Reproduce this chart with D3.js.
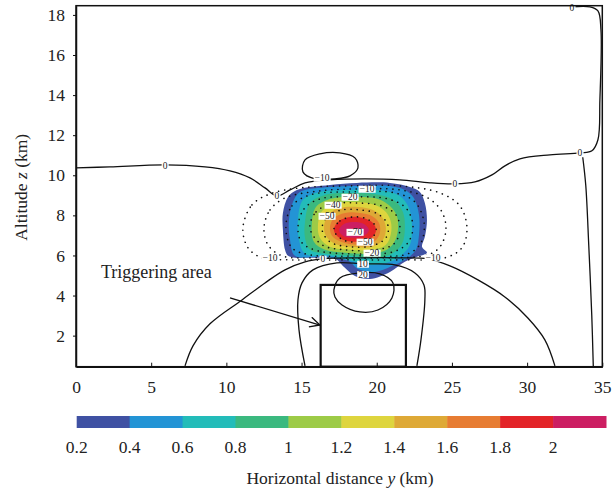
<!DOCTYPE html>
<html>
<head>
<meta charset="utf-8">
<script src="https://cdn.jsdelivr.net/npm/d3@7"></script>
<style>
  body { margin: 0; background: #fff; }
  text { font-family: "Liberation Serif", "DejaVu Serif", serif; fill: #222; }
</style>
</head>
<body>
<script>
// ---- data (km) ----
const yTicks = [0, 5, 10, 15, 20, 25, 30, 35];
const zTicks = [2, 4, 6, 8, 10, 12, 14, 16, 18];
const levelLabels = ["0.2", "0.4", "0.6", "0.8", "1", "1.2", "1.4", "1.6", "1.8", "2"];
const levelColors = ["#3f51a3", "#2394d5", "#23bcb9", "#3bb97f", "#9dcb47",
                     "#ded53e", "#dea936", "#e77c32", "#e32428", "#cc1e62"];

// filled contour outlines, level 0.2 .. 2.0, points are [y, z]
const band02 = [[14.10,5.98],[13.90,6.28],[13.76,7.27],[13.76,8.12],[14.10,8.92],[14.69,9.27],[16.89,9.52],[18.68,9.62],[20.88,9.62],[22.21,9.42],[22.87,9.17],[23.20,8.62],[23.34,7.77],[23.20,6.93],[23.01,6.43],[23.34,6.13],[22.67,5.93],[21.87,5.68],[20.88,5.18],[19.55,4.83],[18.55,4.98],[17.75,5.48],[17.22,5.83],[15.56,5.88],[14.56,5.88]];
const band04 = [[14.16,7.77],[14.23,6.78],[14.56,5.98],[16.22,5.93],[18.09,5.73],[18.75,5.33],[19.88,5.18],[21.21,5.53],[22.07,5.88],[22.61,6.28],[22.81,7.03],[22.81,8.02],[22.47,8.87],[21.87,9.27],[20.88,9.47],[18.88,9.47],[16.89,9.42],[14.89,9.17],[14.43,8.67]];
const band06 = [[14.76,7.77],[15.09,8.77],[16.22,9.17],[18.22,9.27],[20.54,9.22],[21.54,8.97],[22.14,8.37],[22.34,7.52],[22.21,6.53],[21.68,6.03],[20.88,5.68],[19.55,5.53],[18.55,5.68],[16.89,5.98],[15.23,6.08],[14.83,6.78]];
const band08 = [[15.23,7.67],[15.56,8.62],[16.56,9.02],[18.35,9.12],[20.21,9.02],[21.21,8.72],[21.74,8.17],[21.87,7.37],[21.68,6.58],[21.01,6.08],[19.88,5.88],[18.22,5.98],[16.56,6.08],[15.56,6.28],[15.23,6.88]];
const band10 = [[15.69,7.62],[15.96,8.42],[16.89,8.82],[18.55,8.92],[20.08,8.82],[20.88,8.47],[21.34,7.97],[21.41,7.27],[21.14,6.63],[20.54,6.23],[19.41,6.08],[17.89,6.13],[16.56,6.28],[15.82,6.68]];
const band12 = [[16.09,7.52],[16.36,8.22],[17.22,8.57],[18.62,8.67],[19.88,8.52],[20.61,8.17],[20.94,7.67],[20.94,7.08],[20.61,6.53],[19.68,6.28],[18.22,6.28],[16.89,6.43],[16.22,6.88]];
const band14 = [[16.49,7.47],[16.82,8.07],[17.55,8.37],[18.75,8.42],[19.75,8.27],[20.35,7.92],[20.61,7.37],[20.41,6.78],[19.68,6.43],[18.35,6.43],[17.22,6.58],[16.62,6.98]];
const band16 = [[16.89,7.42],[17.15,7.87],[17.89,8.12],[18.88,8.12],[19.68,7.97],[20.15,7.62],[20.21,7.12],[19.81,6.68],[18.75,6.53],[17.62,6.68],[17.02,6.98]];
const band18 = [[17.15,7.32],[17.49,7.72],[18.22,7.92],[19.08,7.87],[19.75,7.62],[19.95,7.22],[19.55,6.83],[18.62,6.68],[17.75,6.78],[17.29,7.03]];
const band20 = [[17.49,7.27],[17.82,7.57],[18.48,7.67],[19.15,7.57],[19.48,7.27],[19.15,6.98],[18.35,6.88],[17.75,6.98]];
const bands = [band02, band04, band06, band08, band10, band12, band14, band16, band18, band20];

// dotted (negative) contours, closed
const neg10 = [[11.10,7.37],[11.70,8.52],[12.90,9.07],[14.89,9.37],[18.22,9.47],[21.54,9.47],[24.20,9.12],[25.53,8.47],[26.00,7.37],[25.66,6.38],[24.53,5.88],[21.54,5.78],[18.22,5.78],[14.23,5.78],[12.37,5.88],[11.44,6.38]];
const neg20 = [[12.50,7.37],[12.90,8.27],[13.90,8.87],[16.22,9.22],[18.88,9.32],[21.54,9.27],[23.40,8.87],[24.34,8.17],[24.60,7.27],[24.20,6.43],[23.40,6.03],[20.21,5.88],[16.22,5.88],[13.70,5.98],[12.77,6.53]];
const neg30 = [[13.96,7.37],[14.36,8.47],[15.56,9.02],[18.22,9.17],[21.21,9.12],[22.54,8.67],[23.14,7.67],[22.94,6.63],[22.07,6.08],[18.88,5.98],[15.56,6.03],[14.36,6.38]];
const neg40 = [[14.76,7.37],[15.16,8.32],[16.22,8.82],[18.35,8.92],[20.74,8.82],[21.94,8.37],[22.41,7.47],[22.07,6.63],[21.08,6.18],[18.55,6.08],[16.09,6.23],[15.03,6.63]];
const neg50 = [[15.56,7.37],[15.96,8.17],[17.02,8.57],[18.62,8.62],[20.35,8.47],[21.28,8.02],[21.54,7.27],[21.14,6.58],[19.95,6.28],[17.89,6.28],[16.36,6.53]];
const neg60 = [[16.36,7.32],[16.76,7.97],[17.69,8.27],[18.88,8.27],[20.08,8.07],[20.74,7.52],[20.61,6.88],[19.68,6.48],[18.22,6.43],[16.89,6.68]];
const neg70 = [[17.15,7.27],[17.55,7.72],[18.42,7.92],[19.35,7.82],[19.95,7.42],[19.75,6.93],[18.88,6.68],[17.75,6.78]];
const dotted = [neg10, neg20, neg30, neg40, neg50, neg60, neg70];

// solid contours
const zeroUpper = [[0,10.37],[2.26,10.42],[5.92,10.52],[8.58,10.42],[10.24,10.22],[11.57,9.87],[12.57,9.37],[13.36,8.97],[14.23,9.27],[15.23,9.62],[16.89,9.77],[19.22,9.82],[21.54,9.77],[23.54,9.62],[25.20,9.57],[26.53,9.67],[27.66,10.02],[28.52,10.47],[29.52,10.82],[31.52,11.02],[33.51,11.12],[34.31,11.22],[34.71,11.77],[34.84,13.76],[34.91,17.25],[34.71,18.20],[34.18,18.40],[32.98,18.40]];
const zeroDome = [[7.25,0.49],[7.78,1.49],[8.91,2.59],[11.04,3.78],[12.57,4.63],[13.90,5.28],[15.23,5.68],[16.42,5.83],[18.88,5.88],[21.54,5.88],[23.40,5.83],[24.87,5.48],[26.73,4.78],[28.52,3.93],[30.05,2.88],[31.18,1.79],[31.85,0.49]];
const tenDome = [[15.23,0.49],[14.83,2.29],[14.76,3.78],[15.03,4.63],[15.76,5.28],[17.35,5.63],[19.08,5.58],[21.21,5.53],[22.54,5.13],[23.14,4.53],[23.20,3.78],[22.94,1.79],[22.67,0.49]];
const rightEdge = [[34.40,0.49],[34.30,3.0],[34.10,6.5],[33.90,9.5],[33.70,10.9]];
const openLines = [zeroUpper, zeroDome, tenDome, rightEdge];
const loopMinus10 = [[15.09,10.17],[15.23,10.77],[16.22,11.07],[17.55,11.12],[18.55,10.87],[18.75,10.37],[18.22,9.97],[17.22,9.82],[15.89,9.82]];
const loop20 = [[17.15,4.28],[17.55,4.88],[18.88,5.13],[20.21,5.08],[21.08,4.63],[21.01,3.88],[20.08,3.28],[18.88,3.18],[17.69,3.53],[17.22,3.93]];
const closedLines = [loopMinus10, loop20];

const contourLabels = [
  ["0", 5.92, 10.47], ["0", 13.36, 8.97], ["0", 25.20, 9.57], ["0", 33.51, 11.12], ["0", 32.98, 18.35],
  ["\u221210", 16.36, 9.87], ["\u221210", 19.35, 9.32], ["\u221220", 18.22, 8.92], ["\u221240", 17.09, 8.52],
  ["\u221250", 16.69, 7.97], ["\u221270", 18.55, 7.17], ["\u221250", 19.22, 6.68], ["\u221220", 19.68, 6.13],
  ["\u221210", 12.90, 5.88], ["\u221210", 23.74, 5.88], ["0", 16.42, 5.83], ["10", 19.08, 5.58], ["20", 19.08, 5.06]
];

const triggerBox = [16.27, 21.94, 0.45, 4.53];   // y0, y1, z0, z1
const arrowLine = [[10.24, 3.88], [16.22, 2.53]];
const triggerText = ["Triggering area", 1.66, 4.88];

// ---- drawing ----
const W = 612, H = 494;
const svg = d3.select("body").append("svg").attr("width", W).attr("height", H);

const x = d3.scaleLinear().domain([0, 35]).range([76, 602.3]);
const z = d3.scaleLinear().domain([0.45, 18.46]).range([366.7, 5.7]);

const lineOpen = d3.line().x(d => x(d[0])).y(d => z(d[1])).curve(d3.curveCatmullRom.alpha(0.5));
const lineClosed = d3.line().x(d => x(d[0])).y(d => z(d[1])).curve(d3.curveCatmullRomClosed.alpha(0.5));

const plot = svg.append("g");

// filled bands
plot.selectAll("path.band").data(bands).join("path")
  .attr("class", "band")
  .attr("d", lineClosed)
  .attr("fill", (d, i) => levelColors[i]);

// dotted negative contours
plot.selectAll("path.neg").data(dotted).join("path")
  .attr("class", "neg")
  .attr("d", lineClosed)
  .attr("fill", "none")
  .attr("stroke", "#111")
  .attr("stroke-width", 1.6)
  .attr("stroke-linecap", "round")
  .attr("stroke-dasharray", "0.1 6");

// solid contours
plot.selectAll("path.open").data(openLines).join("path")
  .attr("class", "open")
  .attr("d", lineOpen)
  .attr("fill", "none")
  .attr("stroke", "#111")
  .attr("stroke-width", 1.3);

plot.selectAll("path.closed").data(closedLines).join("path")
  .attr("class", "closed")
  .attr("d", lineClosed)
  .attr("fill", "none")
  .attr("stroke", "#111")
  .attr("stroke-width", 1.3);

// contour labels with white background
const lab = plot.selectAll("g.clab").data(contourLabels).join("g")
  .attr("class", "clab")
  .attr("transform", d => `translate(${x(d[1])},${z(d[2])})`);
lab.append("text")
  .attr("text-anchor", "middle")
  .attr("dy", "0.35em")
  .style("font-size", "9.5px")
  .text(d => d[0]);
lab.each(function () {
  const g = d3.select(this);
  const bb = g.select("text").node().getBBox();
  g.insert("rect", "text")
    .attr("x", bb.x - 1).attr("y", bb.y + 1.5)
    .attr("width", bb.width + 2).attr("height", bb.height - 3)
    .attr("fill", "#fff");
});

// triggering area box and arrow
plot.append("rect")
  .attr("x", x(triggerBox[0])).attr("y", z(triggerBox[3]))
  .attr("width", x(triggerBox[1]) - x(triggerBox[0]))
  .attr("height", z(triggerBox[2]) - z(triggerBox[3]))
  .attr("fill", "none").attr("stroke", "#111").attr("stroke-width", 2.2);

svg.append("defs").append("marker")
  .attr("id", "arr").attr("viewBox", "0 0 12 12")
  .attr("refX", 11).attr("refY", 6)
  .attr("markerWidth", 12).attr("markerHeight", 12)
  .attr("markerUnits", "userSpaceOnUse")
  .attr("orient", "auto")
  .append("path").attr("d", "M1,1 L11,6 L1,11")
  .attr("fill", "none").attr("stroke", "#111").attr("stroke-width", 1.3);

plot.append("line")
  .attr("x1", x(arrowLine[0][0])).attr("y1", z(arrowLine[0][1]))
  .attr("x2", x(arrowLine[1][0])).attr("y2", z(arrowLine[1][1]))
  .attr("stroke", "#111").attr("stroke-width", 1.3)
  .attr("marker-end", "url(#arr)");

plot.append("text")
  .attr("x", x(triggerText[1])).attr("y", z(triggerText[2]))
  .style("font-size", "18px")
  .text(triggerText[0]);

// frame
svg.append("rect")
  .attr("x", x(0)).attr("y", z(18.46))
  .attr("width", x(35) - x(0)).attr("height", z(0.45) - z(18.46))
  .attr("fill", "none").attr("stroke", "#111").attr("stroke-width", 1.5);

// axes
const ax = svg.append("g").attr("transform", `translate(0,${z(0.45)})`)
  .call(d3.axisBottom(x).tickValues(yTicks).tickFormat(d3.format("d")).tickSizeInner(-4).tickSizeOuter(0).tickPadding(14));
const az = svg.append("g").attr("transform", `translate(${x(0)},0)`)
  .call(d3.axisLeft(z).tickValues(zTicks).tickFormat(d3.format("d")).tickSizeInner(3).tickSizeOuter(0).tickPadding(8));
[ax, az].forEach(a => {
  a.select(".domain").attr("stroke", "#111").attr("stroke-width", 1.5);
  a.selectAll(".tick line").attr("stroke", "#111");
  a.selectAll(".tick text").style("font-size", "17.5px").style("font-family", "'Liberation Serif', serif").attr("fill", "#222");
});

// y-axis title
const yt = svg.append("text")
  .attr("transform", `translate(27,${z(9.4)}) rotate(-90)`)
  .attr("text-anchor", "middle")
  .style("font-size", "17.5px");
yt.append("tspan").text("Altitude ");
yt.append("tspan").style("font-style", "italic").text("z");
yt.append("tspan").text(" (km)");

// colour bar
const cb = d3.scaleBand().domain(levelLabels).range([76.7, 606]).padding(0);
svg.selectAll("rect.cb").data(levelLabels).join("rect")
  .attr("class", "cb")
  .attr("x", d => cb(d)).attr("y", 416)
  .attr("width", cb.bandwidth() + 0.5).attr("height", 12)
  .attr("fill", (d, i) => levelColors[i]);
svg.selectAll("text.cbl").data(levelLabels).join("text")
  .attr("class", "cbl")
  .attr("x", d => cb(d)).attr("y", 453)
  .attr("text-anchor", "middle")
  .style("font-size", "17.5px")
  .text(d => d);

const xt = svg.append("text")
  .attr("x", 340).attr("y", 484)
  .attr("text-anchor", "middle")
  .style("font-size", "17.5px");
xt.append("tspan").text("Horizontal distance ");
xt.append("tspan").style("font-style", "italic").text("y");
xt.append("tspan").text(" (km)");
</script>
</body>
</html>
